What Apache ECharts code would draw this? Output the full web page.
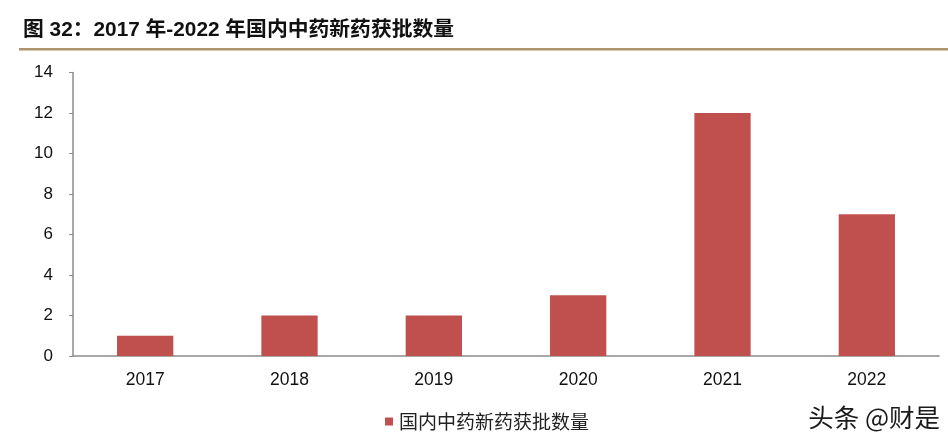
<!DOCTYPE html>
<html>
<head>
<meta charset="utf-8">
<script src="https://cdn.jsdelivr.net/npm/echarts@6/dist/echarts.min.js"></script>
<style>
html,body{margin:0;padding:0;background:#fff;}
#c{width:948px;height:447px;}
</style>
</head>
<body>
<div id="c"></div>
<script>
var categories = ['2017', '2018', '2019', '2020', '2021', '2022'];
var approvals = [1, 2, 2, 3, 12, 7];
var seriesName = '国内中药新药获批数量';
var titleText = '图 32：2017 年-2022 年国内中药新药获批数量';
var watermark = '头条 @财是';

var chart = echarts.init(document.getElementById('c'));
chart.setOption({
  animation: false,
  title: {
    text: titleText,
    left: 18,
    top: 14,
    textStyle: {
      fontFamily: 'Liberation Sans, Noto Sans CJK SC, sans-serif',
      fontSize: 20.8,
      lineHeight: 22,
      fontWeight: 'bold',
      color: '#111'
    }
  },
  graphic: [
    {
      type: 'rect',
      left: 19,
      top: 48,
      shape: { width: 929, height: 2.5 },
      style: { fill: '#AE956B' }
    },
    {
      type: 'text',
      right: 8,
      top: 405,
      style: {
        text: watermark,
        font: '25.5px "Noto Sans CJK SC", sans-serif',
        fill: '#1a1a1a',
        shadowColor: 'rgba(0,0,0,0.25)',
        shadowBlur: 2
      }
    }
  ],
  legend: {
    data: [seriesName],
    left: 380,
    top: 407,
    icon: 'rect',
    itemWidth: 8,
    itemHeight: 8,
    itemGap: 4,
    textStyle: {
      fontFamily: 'Noto Sans CJK SC, sans-serif',
      fontSize: 19,
      color: '#222',
      padding: [0, 0, 0, 1]
    }
  },
  grid: {
    left: 73,
    right: 9,
    top: 72.5,
    bottom: 91,
    containLabel: false
  },
  xAxis: {
    type: 'category',
    data: categories,
    axisLine: { lineStyle: { color: '#8c8c8c', width: 1.5 } },
    axisTick: { show: false },
    axisLabel: {
      fontFamily: 'Liberation Sans, Arial, sans-serif',
      fontSize: 17.5,
      color: '#111',
      margin: 15
    }
  },
  yAxis: {
    type: 'value',
    min: 0,
    max: 14,
    interval: 2,
    splitLine: { show: false },
    axisLine: { show: true, lineStyle: { color: '#8c8c8c', width: 1.5 } },
    axisTick: { show: true, length: 4, lineStyle: { color: '#8c8c8c' } },
    axisLabel: {
      fontFamily: 'Liberation Sans, Arial, sans-serif',
      fontSize: 17,
      color: '#111',
      margin: 20
    }
  },
  series: [{
    name: seriesName,
    type: 'bar',
    data: approvals,
    barWidth: '39%',
    itemStyle: { color: '#C0504D' }
  }]
});
</script>
</body>
</html>
